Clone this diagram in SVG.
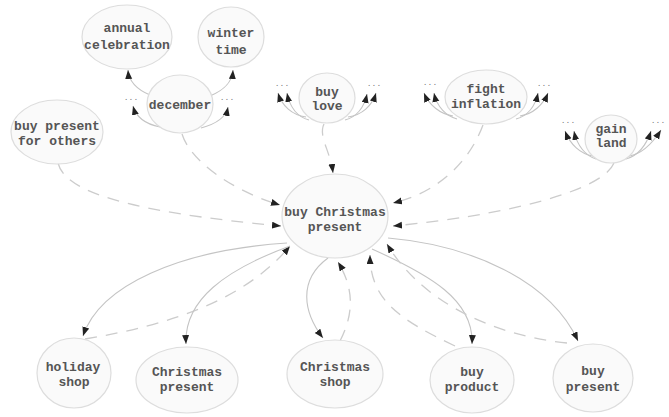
<svg xmlns="http://www.w3.org/2000/svg" width="669" height="417" viewBox="0 0 669 417">
<style>
.node ellipse{fill:#fafafa;stroke:#dddddd;stroke-width:1.2}
.node text{font-family:"Liberation Mono","Courier New",monospace;font-size:13px;font-weight:bold;fill:#555;text-anchor:middle}
.dots{font-family:"Liberation Mono",monospace;font-size:8px;fill:#777;text-anchor:middle}
.s{fill:none;stroke:#c4c4c4;stroke-width:1.1;marker-end:url(#ah)}
.d{fill:none;stroke:#cccccc;stroke-width:1.3;stroke-dasharray:12 9;marker-end:url(#ah)}
</style>
<defs>
<marker id="ah" markerUnits="userSpaceOnUse" markerWidth="10" markerHeight="8" refX="9" refY="3.5" orient="auto">
<path d="M0,0 L9,3.5 L0,7 z" fill="#222"/>
</marker>
</defs>
<rect width="669" height="417" fill="#ffffff"/>

<g id="connectors">
<!-- december -->
<path class="s" d="M150,95 C138,90 129,83 128,70"/>
<path class="s" d="M210,96 C222,91 232,84 233,70"/>
<path class="s" d="M160,127 C145,124 136,117 133,106"/>
<path class="s" d="M201,128 C216,124 226,117 228,107"/>
<!-- buy love -->
<path class="s" d="M306,117 C292,115 282,106 278,93"/>
<path class="s" d="M309,120 C298,117 290,108 287,93"/>
<path class="s" d="M348,117 C362,115 372,106 376,93"/>
<path class="s" d="M345,120 C356,117 364,108 367,94"/>
<!-- fight inflation -->
<path class="s" d="M453,116 C440,114 429,105 424,93"/>
<path class="s" d="M457,119 C446,116 437,107 434,93"/>
<path class="s" d="M520,116 C533,114 543,105 548,93"/>
<path class="s" d="M516,119 C527,116 535,107 538,93"/>
<!-- gain land -->
<path class="s" d="M593,156 C580,154 570,144 565,131"/>
<path class="s" d="M596,159 C586,156 577,146 574,131"/>
<path class="s" d="M629,156 C642,154 652,144 661,130"/>
<path class="s" d="M626,159 C637,156 646,146 651,131"/>
<!-- into BCP -->
<path class="d" d="M182,134 C190,160 230,190 280,205"/>
<path class="d" d="M58,163 C65,192 130,212 281,226"/>
<path class="d" d="M324,124 C318,136 330,150 333,173"/>
<path class="d" d="M483,125 C470,160 440,192 393,203"/>
<path class="d" d="M614,163 C602,192 500,216 393,226"/>
<!-- bottom -->
<path class="s" d="M287,243 C180,250 100,285 83,336"/>
<path class="d" d="M85,339 C170,325 245,300 290,246"/>
<path class="s" d="M290,246 C225,270 184,300 186,344"/>
<path class="s" d="M328,258 C298,280 303,312 323,338"/>
<path class="d" d="M340,341 C356,310 352,285 338,262"/>
<path class="s" d="M372,249 C430,275 474,300 472,344"/>
<path class="d" d="M455,346 C400,320 370,300 370,255"/>
<path class="s" d="M388,238 C470,245 550,280 578,341"/>
<path class="d" d="M567,343 C490,335 420,300 387,244"/>
</g>

<g id="dots">
<text class="dots" x="131" y="100">...</text>
<text class="dots" x="227" y="100">...</text>
<text class="dots" x="282" y="86">...</text>
<text class="dots" x="374" y="86">...</text>
<text class="dots" x="430" y="85">...</text>
<text class="dots" x="544" y="86">...</text>
<text class="dots" x="568" y="123">...</text>
<text class="dots" x="658" y="123">...</text>
</g>

<g id="annual-celebration" class="node"><ellipse cx="127" cy="37" rx="45" ry="32"/><text x="127" y="32">annual</text><text x="127" y="49">celebration</text></g>
<g id="winter-time" class="node"><ellipse cx="231" cy="37" rx="33" ry="30"/><text x="231" y="37">winter</text><text x="231" y="54">time</text></g>
<g id="december" class="node"><ellipse cx="180" cy="104" rx="33" ry="29"/><text x="180" y="109">december</text></g>
<g id="buy-present-for-others" class="node"><ellipse cx="57" cy="132" rx="46" ry="32"/><text x="57" y="130">buy present</text><text x="57" y="145">for others</text></g>
<g id="buy-love" class="node"><ellipse cx="327" cy="98" rx="28" ry="25"/><text x="327" y="96">buy</text><text x="327" y="110">love</text></g>
<g id="fight-inflation" class="node"><ellipse cx="486" cy="97" rx="41" ry="27"/><text x="486" y="93">fight</text><text x="486" y="108">inflation</text></g>
<g id="gain-land" class="node"><ellipse cx="611" cy="139" rx="26" ry="24"/><text x="611" y="133">gain</text><text x="611" y="147">land</text></g>
<g id="buy-christmas-present" class="node"><ellipse cx="335" cy="216" rx="53" ry="42"/><text x="335" y="216">buy Christmas</text><text x="335" y="231">present</text></g>
<g id="holiday-shop" class="node"><ellipse cx="74" cy="373" rx="37" ry="35"/><text x="73" y="371">holiday</text><text x="74" y="386">shop</text></g>
<g id="christmas-present" class="node"><ellipse cx="187" cy="380" rx="51" ry="33"/><text x="187" y="376">Christmas</text><text x="187" y="391">present</text></g>
<g id="christmas-shop" class="node"><ellipse cx="335" cy="374" rx="48" ry="34"/><text x="335" y="371">Christmas</text><text x="335" y="386">shop</text></g>
<g id="buy-product" class="node"><ellipse cx="472" cy="380" rx="42" ry="33"/><text x="472" y="376">buy</text><text x="472" y="391">product</text></g>
<g id="buy-present" class="node"><ellipse cx="593" cy="378" rx="40" ry="34"/><text x="593" y="375">buy</text><text x="593" y="391">present</text></g>
</svg>
